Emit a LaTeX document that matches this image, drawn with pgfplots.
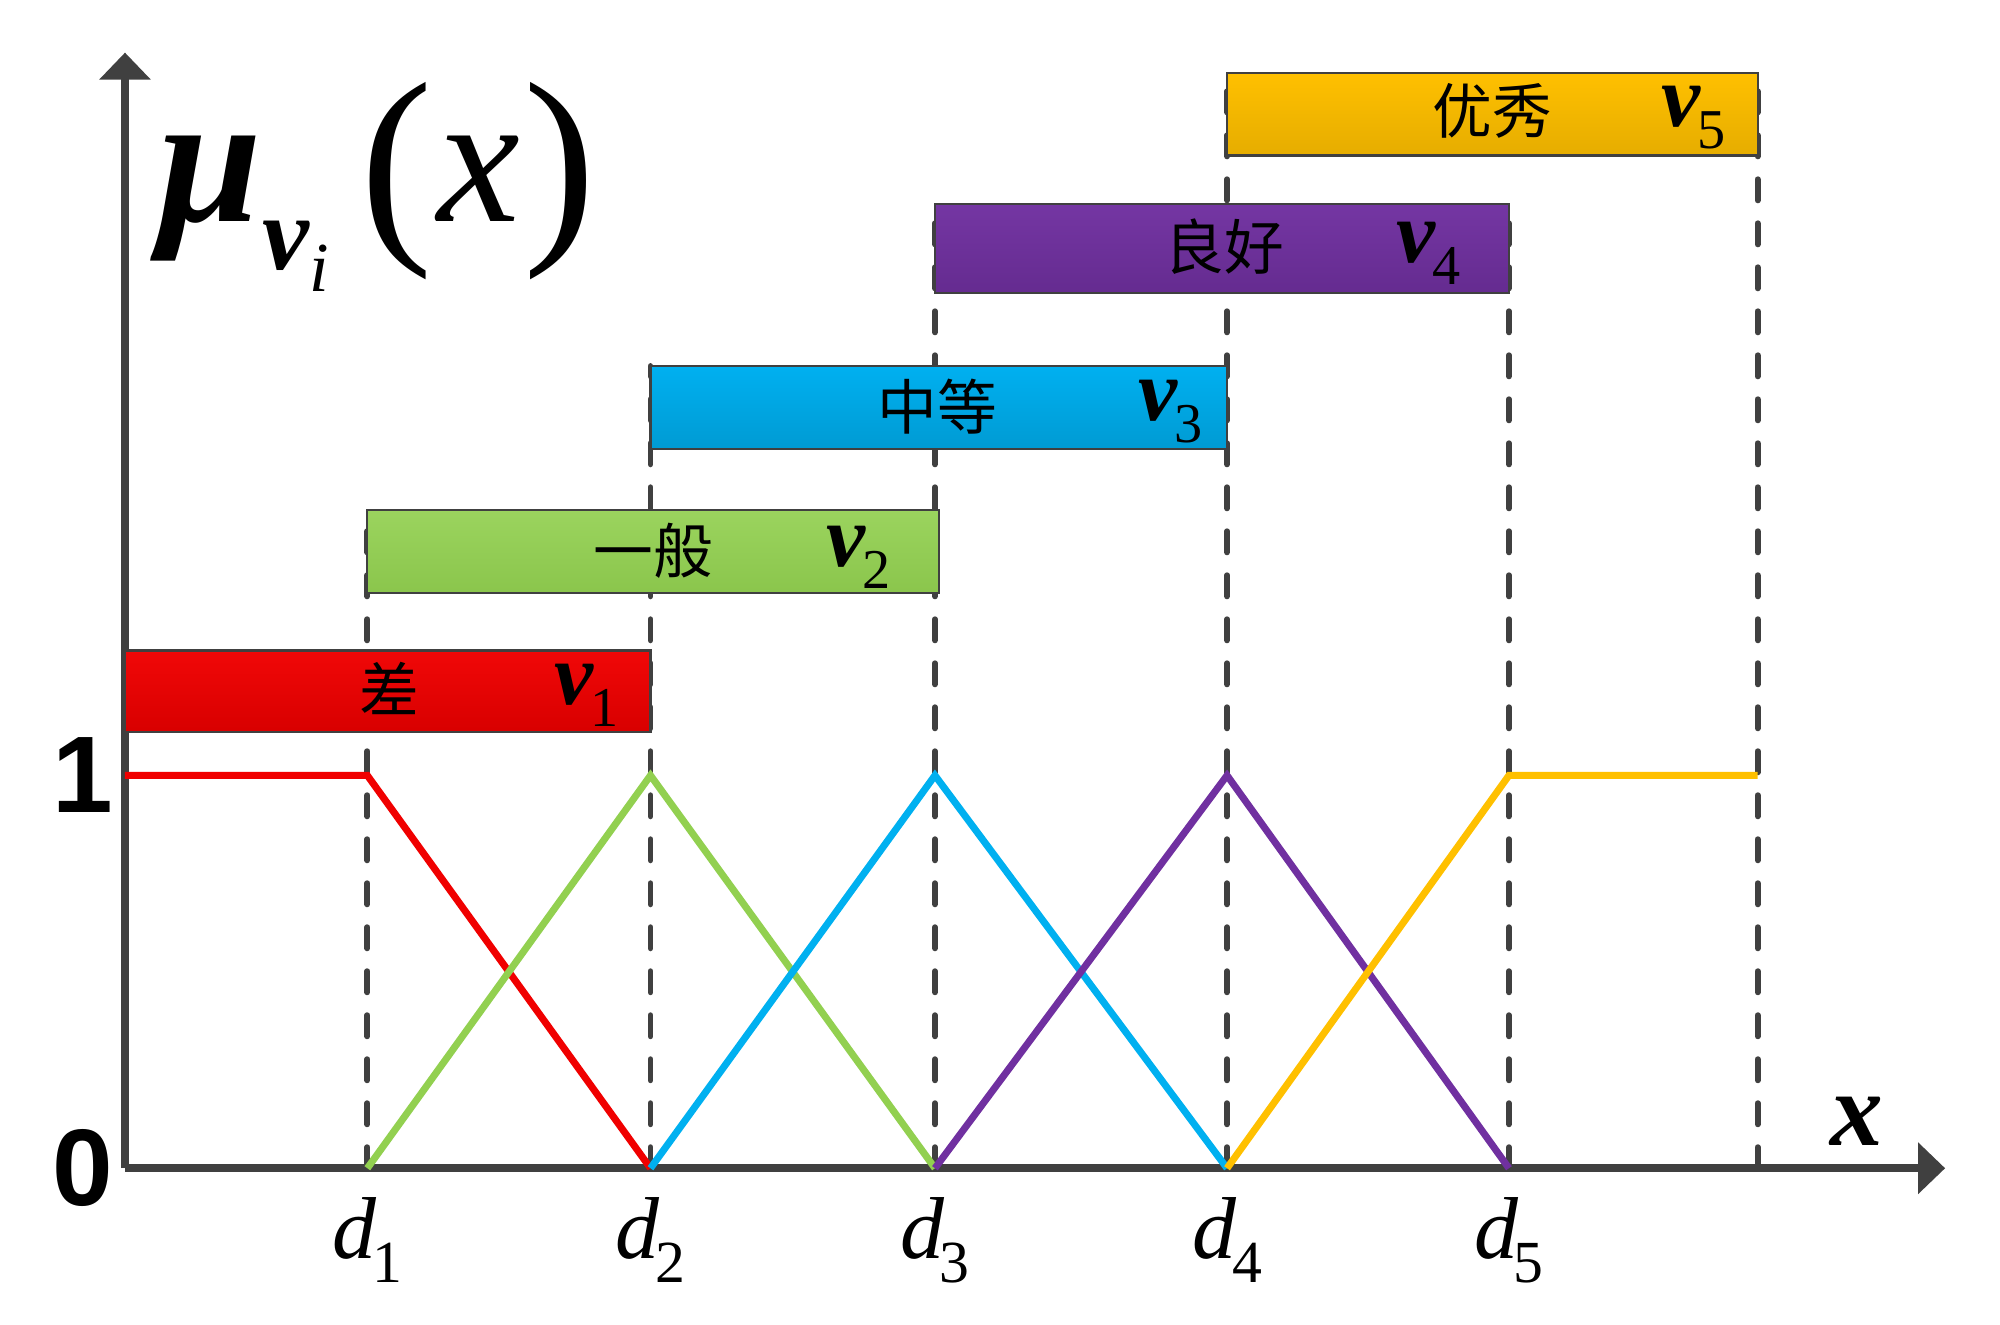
\documentclass[border=0pt]{standalone}
\usepackage{fontspec}
\setmainfont{Liberation Serif}
\newfontfamily\cjk{Noto Sans CJK SC}
\newfontfamily\sansb{Liberation Sans}
\usepackage{pgfplots}
\pgfplotsset{compat=1.18}
\usetikzlibrary{arrows.meta}
\definecolor{axgray}{HTML}{404040}
\definecolor{cred}{HTML}{F00000}
\definecolor{cgreen}{HTML}{92D050}
\definecolor{cblue}{HTML}{00B0F0}
\definecolor{cpurple}{HTML}{7030A0}
\definecolor{corange}{HTML}{FFC000}
\newcommand\dlab[1]{{\fontsize{25}{25}\selectfont\itshape d}\kern-0.04cm\raisebox{-0.24cm}{\fontsize{17}{17}\selectfont #1}}
\newcommand\vlab[1]{{\fontsize{25}{25}\selectfont\bfseries\itshape v}\kern-0.03cm\raisebox{-0.22cm}{\fontsize{16}{16}\selectfont #1}}
\begin{document}
\begin{tikzpicture}
\begin{axis}[
  x=0.012755cm, y=3.9286cm,
  xmin=0, xmax=1427, ymin=0, ymax=2.84,
  axis lines=left,
  axis line style={line width=2.2pt, color=axgray, -{Triangle[width=0.5cm,length=0.27cm]}},
  clip=false,
  xtick={190,412,635,864,1085},
  xticklabels={\dlab1,\dlab2,\dlab3,\dlab4,\dlab5},
  ytick={0,1}, yticklabels={0,1},
  major tick length=0,
  xticklabel style={anchor=center, yshift=-0.72cm},
  yticklabel style={anchor=center, xshift=-0.42cm, font=\sansb\bfseries\fontsize{31}{31}\selectfont},
  every axis plot/.append style={line width=2pt},
  guide/.style={axgray, line width=1.7pt, dash pattern=on 0.21cm off 0.23cm, line cap=round},
  bar/.style={draw=axgray, line width=0.6pt},
]
% invisible bounding frame
\path (axis cs:-98,-0.399) rectangle (axis cs:1470,2.974);
% dashed guide lines
\addplot[guide] coordinates {(190,0) (190,1.675)};
\addplot[guide] coordinates {(412,0) (412,2.042)};
\addplot[guide] coordinates {(635,0) (635,2.455)};
\addplot[guide] coordinates {(864,0) (864,2.789)};
\addplot[guide] coordinates {(1085,0) (1085,2.455)};
\addplot[guide] coordinates {(1280,0) (1280,2.789)};
% bars
\addplot[bar, top color=cred!97!white, bottom color=cred!90!black] coordinates {(0,1.11) (412,1.11) (412,1.318) (0,1.318)} -- cycle;
\addplot[bar, top color=cgreen!92!white, bottom color=cgreen!95!black] coordinates {(190,1.464) (638,1.464) (638,1.675) (190,1.675)} -- cycle;
\addplot[bar, top color=cblue, bottom color=cblue!88!black] coordinates {(412,1.831) (864,1.831) (864,2.042) (412,2.042)} -- cycle;
\addplot[bar, top color=cpurple!97!white, bottom color=cpurple!90!black] coordinates {(635,2.227) (1085,2.227) (1085,2.455) (635,2.455)} -- cycle;
\addplot[bar, top color=corange, bottom color=corange!90!black] coordinates {(864,2.578) (1280,2.578) (1280,2.789) (864,2.789)} -- cycle;
% membership functions
\addplot[cred] coordinates {(0,1) (190,1) (412,0)};
\addplot[cgreen] coordinates {(190,0) (412,1) (635,0)};
\addplot[cblue] coordinates {(412,0) (635,1) (864,0)};
\addplot[cpurple] coordinates {(635,0) (864,1) (1085,0)};
\addplot[corange] coordinates {(864,0) (1085,1) (1280,1)};
% bar texts
\node[font=\cjk\fontsize{17}{17}\selectfont] at (axis cs:207,1.221) {差};
\node at (axis cs:362,1.205) {\vlab1};
\node[font=\cjk\fontsize{17}{17}\selectfont] at (axis cs:414,1.571) {一般};
\node at (axis cs:575,1.555) {\vlab2};
\node[font=\cjk\fontsize{17}{17}\selectfont] at (axis cs:637,1.94) {中等};
\node at (axis cs:820,1.925) {\vlab3};
\node[font=\cjk\fontsize{17}{17}\selectfont] at (axis cs:862,2.347) {良好};
\node at (axis cs:1022,2.33) {\vlab4};
\node[font=\cjk\fontsize{17}{17}\selectfont] at (axis cs:1072,2.692) {优秀};
\node at (axis cs:1230,2.675) {\vlab5};
% axis name labels
\node[font=\fontsize{30}{30}\selectfont\bfseries\itshape] at (axis cs:1358,0.12) {x};
\node[anchor=base west, inner sep=0pt] at (axis cs:26,2.41) {\fontsize{53}{53}\selectfont\bfseries\itshape μ\raisebox{-0.48cm}{\fontsize{30}{30}\selectfont v\raisebox{-0.22cm}{\fontsize{20}{20}\selectfont\mdseries i}}\hspace{0.32cm}\mdseries\upshape\raisebox{-0.12cm}{\fontsize{62}{62}\selectfont(}\hspace{0.04cm}\itshape x\hspace{0.04cm}\upshape\raisebox{-0.12cm}{\fontsize{62}{62}\selectfont)}};
\end{axis}
\end{tikzpicture}
\end{document}
